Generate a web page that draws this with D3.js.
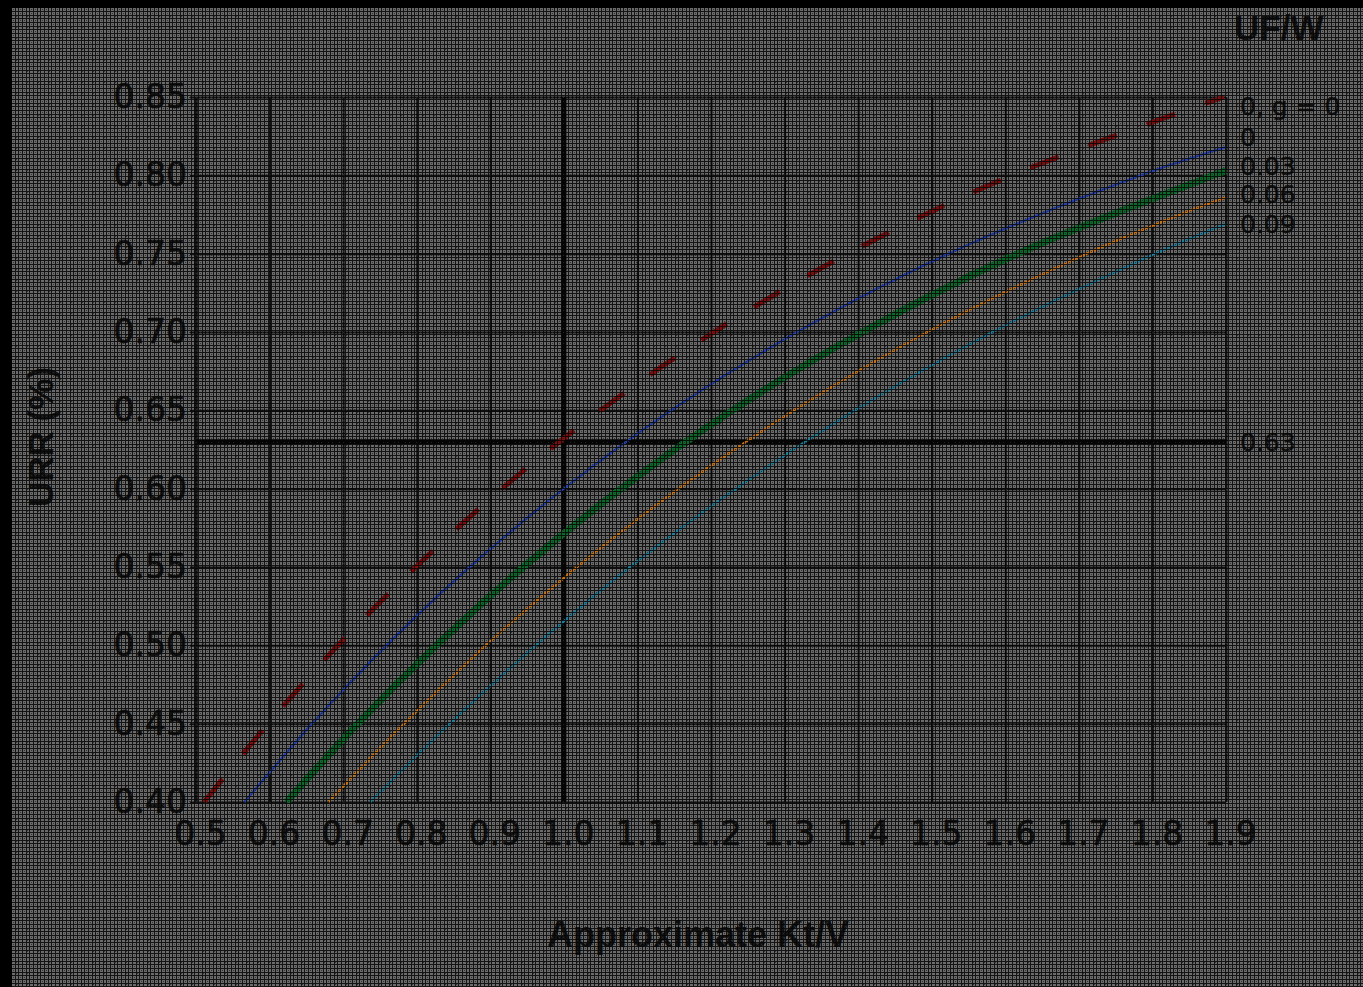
<!DOCTYPE html>
<html>
<head>
<meta charset="utf-8">
<script src="https://cdn.jsdelivr.net/npm/d3@7"></script>
<style>
html, body { margin: 0; padding: 0; background: #000; overflow: hidden; }
svg { display: block; }
</style>
</head>
<body>
<svg id="chart" width="1363" height="987"></svg>
<script>
// Axis ticks
const xTicks = [0.5, 0.6, 0.7, 0.8, 0.9, 1.0, 1.1, 1.2, 1.3, 1.4, 1.5, 1.6, 1.7, 1.8, 1.9];
const yTicks = [0.40, 0.45, 0.50, 0.55, 0.60, 0.65, 0.70, 0.75, 0.80, 0.85];

// Reference markers
const targetKtV = 1.0;
const targetURR = 0.63;

// Curve labels (UF/W)
const legendTitle = "UF/W";
const seriesLabels = ["0, g = 0", "0", "0.03", "0.06", "0.09"];

// [Kt/V, URR] points for each curve
const curveG0 = [[0.511, 0.40], [0.598, 0.45], [0.693, 0.50], [0.799, 0.55], [0.916, 0.60], [1.050, 0.65], [1.204, 0.70], [1.386, 0.75], [1.609, 0.80], [1.897, 0.85]];
const curveUF0 = [[0.566, 0.40], [0.658, 0.45], [0.759, 0.50], [0.872, 0.55], [1.000, 0.60], [1.146, 0.65], [1.317, 0.70], [1.523, 0.75], [1.784, 0.80], [1.900, 0.818]];
const curveUF03 = [[0.623, 0.40], [0.720, 0.45], [0.827, 0.50], [0.945, 0.55], [1.078, 0.60], [1.229, 0.65], [1.406, 0.70], [1.617, 0.75], [1.883, 0.80], [1.900, 0.803]];
const curveUF06 = [[0.680, 0.40], [0.783, 0.45], [0.894, 0.50], [1.018, 0.55], [1.156, 0.60], [1.313, 0.65], [1.494, 0.70], [1.711, 0.75], [1.865, 0.78], [1.900, 0.786]];
const curveUF09 = [[0.737, 0.40], [0.845, 0.45], [0.962, 0.50], [1.090, 0.55], [1.234, 0.60], [1.396, 0.65], [1.583, 0.70], [1.804, 0.75], [1.900, 0.769]];

const svg = d3.select("#chart");
const W = 1363, H = 987;

const x = d3.scaleLinear().domain([0.5, 1.9]).range([196, 1226]);
const y = d3.scaleLinear().domain([0.40, 0.85]).range([802, 97]);

// Textured backdrop pattern
const defs = svg.append("defs");
const pat = defs.append("pattern").attr("id", "weave")
  .attr("patternUnits", "userSpaceOnUse").attr("width", 11).attr("height", 11);
[0, 4, 7].forEach(o => {
  pat.append("rect").attr("x", 0).attr("y", o).attr("width", 11).attr("height", 1).attr("fill", "#050505");
  pat.append("rect").attr("x", o).attr("y", 0).attr("width", 1).attr("height", 11).attr("fill", "#050505");
});
[[2, 2], [9, 2], [2, 9], [9, 9], [5, 5]].forEach(([px, py]) => {
  pat.append("rect").attr("x", px).attr("y", py).attr("width", 1).attr("height", 1).attr("fill", "#2a2a2a");
});

svg.append("rect").attr("width", W).attr("height", H).attr("fill", "#000");
svg.append("rect").attr("x", 12).attr("y", 8).attr("width", W - 12).attr("height", H - 8).attr("fill", "#6b6b6b");

const plot = svg.append("g");
const ink = "#121212";

// Grid via axes
const xAxis = d3.axisBottom(x).tickValues(xTicks).tickFormat(d3.format(".1f"))
  .tickSize(-(y(0.40) - y(0.85))).tickPadding(20);
const gx = plot.append("g").attr("transform", `translate(0,${y(0.40)})`).call(xAxis);
gx.select(".domain").remove();
gx.selectAll(".tick line").attr("stroke", ink).attr("stroke-width", 2);
gx.selectAll(".tick text")
  .attr("fill", ink).attr("stroke", ink).attr("stroke-width", 0.7).attr("dx", 4)
  .style("font-family", "'DejaVu Sans', sans-serif").style("font-size", "33px");

const yAxis = d3.axisLeft(y).tickValues(yTicks).tickFormat(d3.format(".2f"))
  .tickSize(-(x(1.9) - x(0.5))).tickPadding(9);
const gy = plot.append("g").attr("transform", `translate(${x(0.5)},0)`).call(yAxis);
gy.select(".domain").remove();
gy.selectAll(".tick line").attr("stroke", ink).attr("stroke-width", 2).attr("x1", -6);
gy.selectAll(".tick text")
  .attr("fill", ink).attr("stroke", ink).attr("stroke-width", 0.7)
  .style("font-family", "'DejaVu Sans', sans-serif").style("font-size", "33px");

// Left axis line
plot.append("line").attr("x1", x(0.5)).attr("x2", x(0.5)).attr("y1", y(0.85)).attr("y2", y(0.40))
  .attr("stroke", ink).attr("stroke-width", 3);

// Reference lines
plot.append("line").attr("x1", x(targetKtV)).attr("x2", x(targetKtV))
  .attr("y1", y(0.85)).attr("y2", y(0.40)).attr("stroke", "#050505").attr("stroke-width", 5);
plot.append("line").attr("x1", x(0.5)).attr("x2", x(1.9))
  .attr("y1", y(targetURR)).attr("y2", y(targetURR)).attr("stroke", "#050505").attr("stroke-width", 5);

// Curves
const line = d3.line().x(d => x(d[0])).y(d => y(d[1])).curve(d3.curveCatmullRom);
const curves = [
  { data: curveG0, color: "#820c0c", width: 5, dash: "30,32" },
  { data: curveUF0, color: "#2442b0", width: 2.4, dash: null },
  { data: curveUF03, color: "#0a6a2a", width: 7, dash: null },
  { data: curveUF06, color: "#c87414", width: 2.4, dash: null },
  { data: curveUF09, color: "#1d7f9e", width: 2.4, dash: null }
];
curves.forEach(c => {
  plot.append("path").datum(c.data).attr("d", line)
    .attr("fill", "none").attr("stroke", c.color).attr("stroke-width", c.width)
    .attr("stroke-dasharray", c.dash);
});

// Curve labels
const labelBaselines = [115, 146, 175, 203, 233];
const lab = svg.append("g").style("font-family", "'DejaVu Sans', sans-serif").style("font-size", "25px")
  .attr("fill", ink).attr("stroke", ink).attr("stroke-width", 0.4);
seriesLabels.forEach((t, i) => {
  lab.append("text").attr("x", 1240).attr("y", labelBaselines[i]).text(t);
});
lab.append("text").attr("x", 1240).attr("y", y(targetURR) + 9).text(d3.format(".2f")(targetURR));

svg.append("text").attr("x", 1234).attr("y", 40)
  .style("font-family", "'Liberation Sans', Arial, sans-serif").style("font-size", "35px").style("font-weight", "bold")
  .attr("fill", ink).text(legendTitle);

// Axis titles
svg.append("text").attr("x", 698).attr("y", 947).attr("text-anchor", "middle")
  .style("font-family", "'Liberation Sans', Arial, sans-serif").style("font-size", "36px").style("font-weight", "bold")
  .attr("fill", ink).text("Approximate Kt/V");
svg.append("text").attr("transform", "translate(53,437) rotate(-90)").attr("text-anchor", "middle")
  .style("font-family", "'Liberation Sans', Arial, sans-serif").style("font-size", "35px").style("font-weight", "bold")
  .attr("fill", ink).text("URR (%)");

// Weave overlay across the whole sheet
svg.append("rect").attr("x", 12).attr("y", 8).attr("width", W - 12).attr("height", H - 8)
  .attr("fill", "url(#weave)").attr("opacity", 0.85).style("pointer-events", "none");
</script>
</body>
</html>
